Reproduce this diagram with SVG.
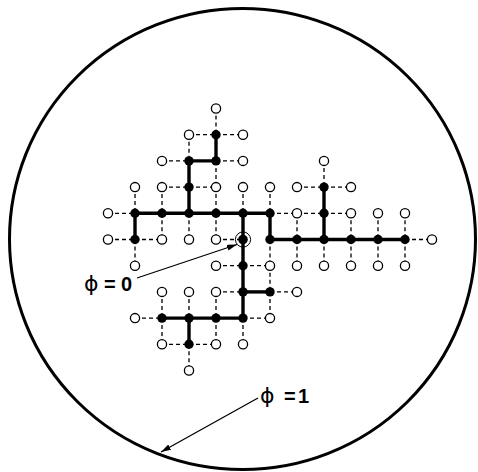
<svg xmlns="http://www.w3.org/2000/svg" width="478" height="472" viewBox="0 0 478 472">
<style>
.o{fill:#fff;stroke:#000;stroke-width:1.3}
.f{fill:#000}
.ring{fill:none;stroke:#000;stroke-width:1}
.thick{fill:none;stroke:#000;stroke-width:3.4;stroke-linecap:square;stroke-linejoin:miter}
.dash{fill:none;stroke:#000;stroke-width:1.3;stroke-dasharray:4 3}
.lbl{font-family:"Liberation Sans",Arial,sans-serif;font-weight:bold;font-size:20px;fill:#000}
.phi{font-family:"DejaVu Sans","Liberation Sans",sans-serif;font-weight:normal;font-size:22px}
.ptr{stroke:#000;stroke-width:1.3;fill:none}
</style>
<defs>
<marker id="ah" viewBox="0 0 10 6" refX="10" refY="3" markerWidth="10" markerHeight="6" markerUnits="userSpaceOnUse" orient="auto">
<path d="M0 0 L10 3 L0 6 Z" fill="#000"/>
</marker>
</defs>
<rect width="478" height="472" fill="#fff"/>
<g id="boundary">
<ellipse cx="242.5" cy="239" rx="233" ry="230.5" fill="none" stroke="#000" stroke-width="3"/>
</g>
<g id="connectors">
<path class="dash" d="M216 108.5V134.7M189 134.7V160.9M216 160.9V187.1M135 187.1V213.3M162 187.1V213.3M216 187.1V213.3M243 187.1V213.3M270 187.1V213.3M324 160.9V187.1M162 213.3V239.5M189 213.3V239.5M216 213.3V239.5M297 213.3V239.5M351 213.3V239.5M378 213.3V239.5M405 213.3V239.5M135 239.5V265.7M270 239.5V265.7M297 239.5V265.7M324 239.5V265.7M351 239.5V265.7M378 239.5V265.7M405 239.5V265.7M270 265.7V291.9M270 291.9V318.1M162 291.9V318.1M189 291.9V318.1M216 291.9V318.1M162 318.1V344.3M216 318.1V344.3M243 318.1V344.3M189 344.3V370.5"/>
<path class="dash" d="M189 134.7H216M216 134.7H243M162 160.9H189M216 160.9H243M162 187.1H189M189 187.1H216M297 187.1H324M324 187.1H351M108 213.3H135M270 213.3H297M297 213.3H324M324 213.3H351M108 239.5H135M135 239.5H162M216 239.5H243M405 239.5H432M216 265.7H243M243 265.7H270M216 291.9H243M270 291.9H297M135 318.1H162M243 318.1H270M162 344.3H189M189 344.3H216"/>
<path class="thick" d="M216 134.7V160.9H189V213.3"/>
<path class="thick" d="M135 239.5V213.3H270V239.5H405"/>
<path class="thick" d="M324 187.1V239.5"/>
<path class="thick" d="M243 213.3V318.1"/>
<path class="thick" d="M243 291.9H270"/>
<path class="thick" d="M162 318.1H243"/>
<path class="thick" d="M189 318.1V344.3"/>
</g>
<g id="nodes">
<g id="o4_0"><circle class="o" cx="216" cy="108.5" r="4.6"/></g>
<g id="o3_1"><circle class="o" cx="189" cy="134.7" r="4.6"/></g>
<g id="o5_1"><circle class="o" cx="243" cy="134.7" r="4.6"/></g>
<g id="o2_2"><circle class="o" cx="162" cy="160.9" r="4.6"/></g>
<g id="o5_2"><circle class="o" cx="243" cy="160.9" r="4.6"/></g>
<g id="o8_2"><circle class="o" cx="324" cy="160.9" r="4.6"/></g>
<g id="o1_3"><circle class="o" cx="135" cy="187.1" r="4.6"/></g>
<g id="o2_3"><circle class="o" cx="162" cy="187.1" r="4.6"/></g>
<g id="o4_3"><circle class="o" cx="216" cy="187.1" r="4.6"/></g>
<g id="o5_3"><circle class="o" cx="243" cy="187.1" r="4.6"/></g>
<g id="o6_3"><circle class="o" cx="270" cy="187.1" r="4.6"/></g>
<g id="o7_3"><circle class="o" cx="297" cy="187.1" r="4.6"/></g>
<g id="o9_3"><circle class="o" cx="351" cy="187.1" r="4.6"/></g>
<g id="o0_4"><circle class="o" cx="108" cy="213.3" r="4.6"/></g>
<g id="o7_4"><circle class="o" cx="297" cy="213.3" r="4.6"/></g>
<g id="o9_4"><circle class="o" cx="351" cy="213.3" r="4.6"/></g>
<g id="o10_4"><circle class="o" cx="378" cy="213.3" r="4.6"/></g>
<g id="o11_4"><circle class="o" cx="405" cy="213.3" r="4.6"/></g>
<g id="o0_5"><circle class="o" cx="108" cy="239.5" r="4.6"/></g>
<g id="o2_5"><circle class="o" cx="162" cy="239.5" r="4.6"/></g>
<g id="o3_5"><circle class="o" cx="189" cy="239.5" r="4.6"/></g>
<g id="o4_5"><circle class="o" cx="216" cy="239.5" r="4.6"/></g>
<g id="o12_5"><circle class="o" cx="432" cy="239.5" r="4.6"/></g>
<g id="o1_6"><circle class="o" cx="135" cy="265.7" r="4.6"/></g>
<g id="o4_6"><circle class="o" cx="216" cy="265.7" r="4.6"/></g>
<g id="o6_6"><circle class="o" cx="270" cy="265.7" r="4.6"/></g>
<g id="o7_6"><circle class="o" cx="297" cy="265.7" r="4.6"/></g>
<g id="o8_6"><circle class="o" cx="324" cy="265.7" r="4.6"/></g>
<g id="o9_6"><circle class="o" cx="351" cy="265.7" r="4.6"/></g>
<g id="o10_6"><circle class="o" cx="378" cy="265.7" r="4.6"/></g>
<g id="o11_6"><circle class="o" cx="405" cy="265.7" r="4.6"/></g>
<g id="o2_7"><circle class="o" cx="162" cy="291.9" r="4.6"/></g>
<g id="o3_7"><circle class="o" cx="189" cy="291.9" r="4.6"/></g>
<g id="o4_7"><circle class="o" cx="216" cy="291.9" r="4.6"/></g>
<g id="o7_7"><circle class="o" cx="297" cy="291.9" r="4.6"/></g>
<g id="o1_8"><circle class="o" cx="135" cy="318.1" r="4.6"/></g>
<g id="o6_8"><circle class="o" cx="270" cy="318.1" r="4.6"/></g>
<g id="o2_9"><circle class="o" cx="162" cy="344.3" r="4.6"/></g>
<g id="o4_9"><circle class="o" cx="216" cy="344.3" r="4.6"/></g>
<g id="o5_9"><circle class="o" cx="243" cy="344.3" r="4.6"/></g>
<g id="o3_10"><circle class="o" cx="189" cy="370.5" r="4.6"/></g>
<g id="f4_1"><circle class="f" cx="216" cy="134.7" r="4.7"/></g>
<g id="f3_2"><circle class="f" cx="189" cy="160.9" r="4.7"/></g>
<g id="f4_2"><circle class="f" cx="216" cy="160.9" r="4.7"/></g>
<g id="f3_3"><circle class="f" cx="189" cy="187.1" r="4.7"/></g>
<g id="f8_3"><circle class="f" cx="324" cy="187.1" r="4.7"/></g>
<g id="f1_4"><circle class="f" cx="135" cy="213.3" r="4.7"/></g>
<g id="f2_4"><circle class="f" cx="162" cy="213.3" r="4.7"/></g>
<g id="f3_4"><circle class="f" cx="189" cy="213.3" r="4.7"/></g>
<g id="f4_4"><circle class="f" cx="216" cy="213.3" r="4.7"/></g>
<g id="f5_4"><circle class="f" cx="243" cy="213.3" r="4.7"/></g>
<g id="f6_4"><circle class="f" cx="270" cy="213.3" r="4.7"/></g>
<g id="f8_4"><circle class="f" cx="324" cy="213.3" r="4.7"/></g>
<g id="f1_5"><circle class="f" cx="135" cy="239.5" r="4.7"/></g>
<g id="seed"><circle class="f" cx="243" cy="239.5" r="4.8"/><circle class="ring" cx="243" cy="239.5" r="7.6"/></g>
<g id="f6_5"><circle class="f" cx="270" cy="239.5" r="4.7"/></g>
<g id="f7_5"><circle class="f" cx="297" cy="239.5" r="4.7"/></g>
<g id="f8_5"><circle class="f" cx="324" cy="239.5" r="4.7"/></g>
<g id="f9_5"><circle class="f" cx="351" cy="239.5" r="4.7"/></g>
<g id="f10_5"><circle class="f" cx="378" cy="239.5" r="4.7"/></g>
<g id="f11_5"><circle class="f" cx="405" cy="239.5" r="4.7"/></g>
<g id="f5_6"><circle class="f" cx="243" cy="265.7" r="4.7"/></g>
<g id="f5_7"><circle class="f" cx="243" cy="291.9" r="4.7"/></g>
<g id="f6_7"><circle class="f" cx="270" cy="291.9" r="4.7"/></g>
<g id="f2_8"><circle class="f" cx="162" cy="318.1" r="4.7"/></g>
<g id="f3_8"><circle class="f" cx="189" cy="318.1" r="4.7"/></g>
<g id="f4_8"><circle class="f" cx="216" cy="318.1" r="4.7"/></g>
<g id="f5_8"><circle class="f" cx="243" cy="318.1" r="4.7"/></g>
<g id="f3_9"><circle class="f" cx="189" cy="344.3" r="4.7"/></g>
</g>
<g id="label-phi0">
<line class="ptr" x1="137" y1="278" x2="237" y2="244.5" marker-end="url(#ah)"/>
<text class="lbl" y="291"><tspan class="phi" x="84">ϕ</tspan><tspan x="104">=</tspan><tspan x="121">0</tspan></text>
</g>
<g id="label-phi1">
<line class="ptr" x1="258" y1="398" x2="161" y2="452" marker-end="url(#ah)"/>
<text class="lbl" y="403"><tspan class="phi" x="260">ϕ</tspan><tspan x="284">=</tspan><tspan x="298">1</tspan></text>
</g>
</svg>
